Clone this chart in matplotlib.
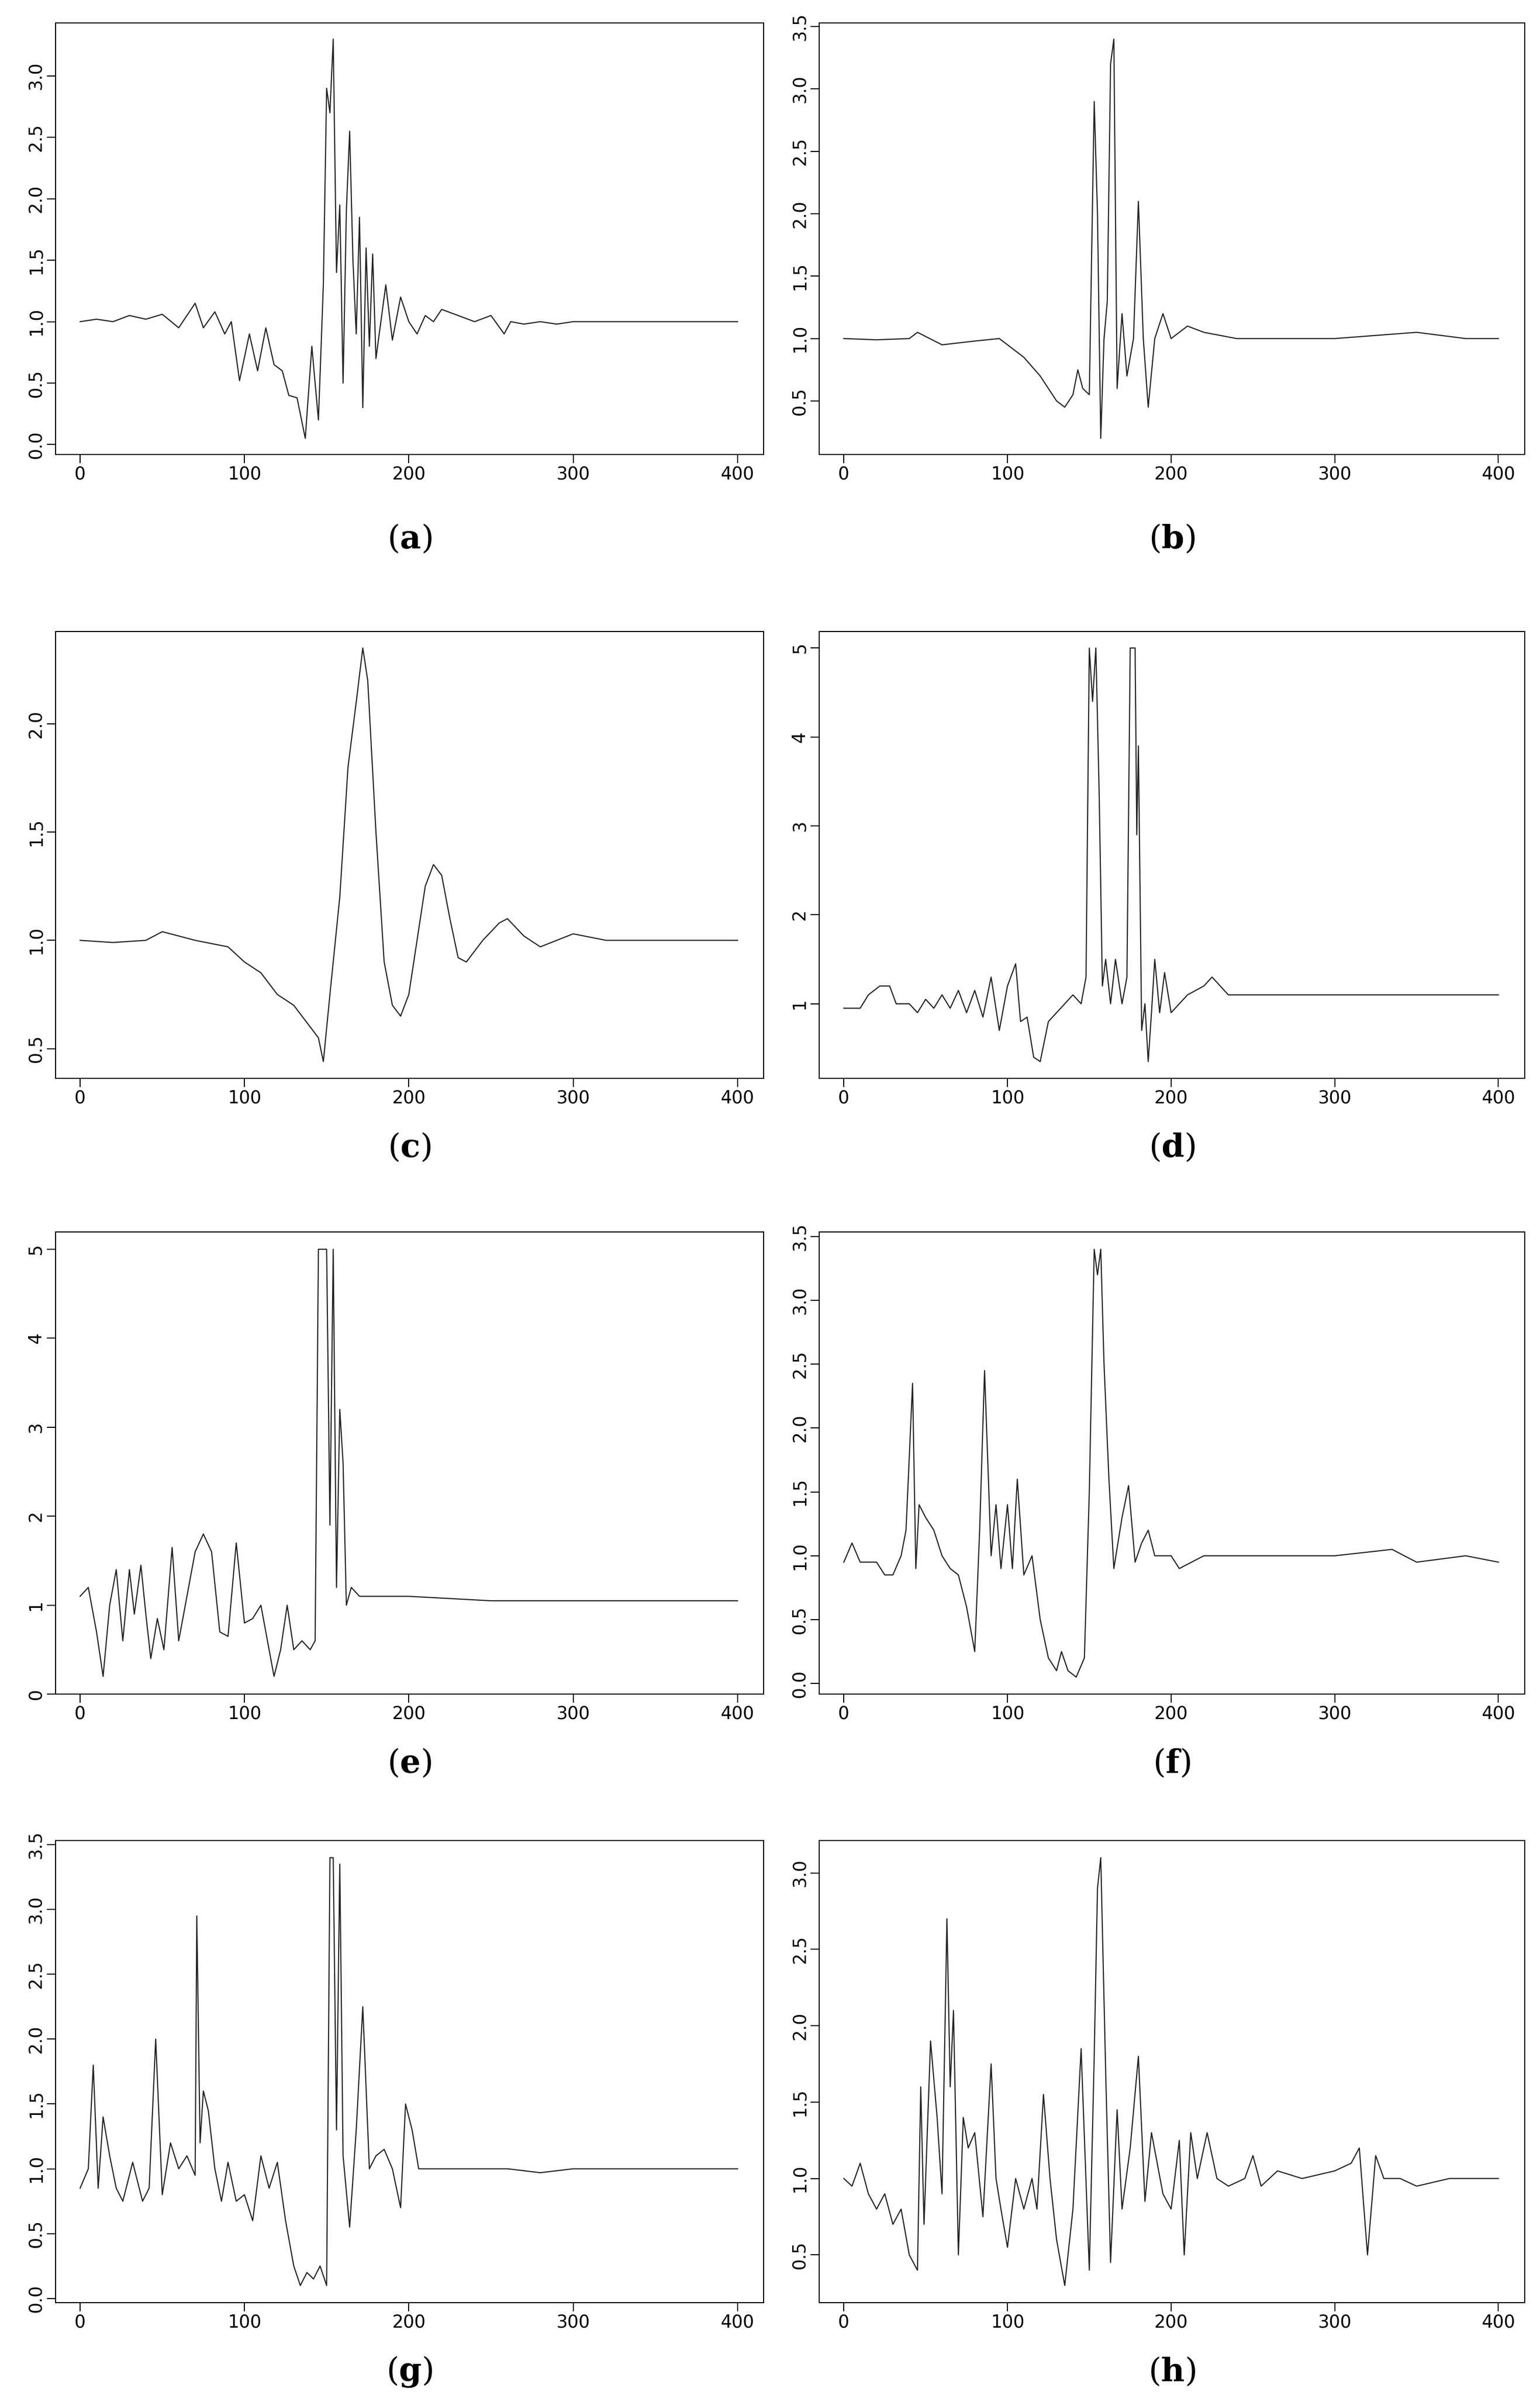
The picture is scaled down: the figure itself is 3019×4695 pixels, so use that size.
import numpy as np
import matplotlib.pyplot as plt

plt.rcParams['mathtext.fontset'] = 'dejavuserif'

# panel keypoints: x positions and series values
a_x = [0, 10, 20, 30, 40, 50, 60, 70, 75, 82, 88, 92, 97, 103, 108, 113, 118, 123, 127, 132, 137, 141, 145, 148, 150, 152, 154, 156, 158, 160, 162, 164, 166, 168, 170, 172, 174, 176, 178, 180, 183, 186, 190, 195, 200, 205, 210, 215, 220, 230, 240, 250, 258, 262, 270, 280, 290, 300, 350, 400]
a_y = [1.0, 1.02, 1.0, 1.05, 1.02, 1.06, 0.95, 1.15, 0.95, 1.08, 0.9, 1.0, 0.52, 0.9, 0.6, 0.95, 0.65, 0.6, 0.4, 0.38, 0.05, 0.8, 0.2, 1.3, 2.9, 2.7, 3.3, 1.4, 1.95, 0.5, 1.9, 2.55, 1.5, 0.9, 1.85, 0.3, 1.6, 0.8, 1.55, 0.7, 1.0, 1.3, 0.85, 1.2, 1.0, 0.9, 1.05, 1.0, 1.1, 1.05, 1.0, 1.05, 0.9, 1.0, 0.98, 1.0, 0.98, 1.0, 1.0, 1.0]

b_x = [0, 20, 40, 45, 60, 80, 95, 110, 120, 130, 135, 140, 143, 146, 150, 153, 155, 157, 159, 161, 163, 165, 167, 170, 173, 177, 180, 183, 186, 190, 195, 200, 210, 220, 240, 260, 300, 350, 380, 400]
b_y = [1.0, 0.99, 1.0, 1.05, 0.95, 0.98, 1.0, 0.85, 0.7, 0.5, 0.45, 0.55, 0.75, 0.6, 0.55, 2.9, 2.0, 0.2, 1.0, 1.3, 3.2, 3.4, 0.6, 1.2, 0.7, 1.0, 2.1, 1.0, 0.45, 1.0, 1.2, 1.0, 1.1, 1.05, 1.0, 1.0, 1.0, 1.05, 1.0, 1.0]

c_x = [0, 20, 40, 50, 70, 90, 100, 110, 120, 130, 140, 145, 148, 152, 158, 163, 168, 172, 175, 180, 185, 190, 195, 200, 205, 210, 215, 220, 225, 230, 235, 245, 255, 260, 270, 280, 290, 300, 320, 360, 400]
c_y = [1.0, 0.99, 1.0, 1.04, 1.0, 0.97, 0.9, 0.85, 0.75, 0.7, 0.6, 0.55, 0.44, 0.75, 1.2, 1.8, 2.1, 2.35, 2.2, 1.5, 0.9, 0.7, 0.65, 0.75, 1.0, 1.25, 1.35, 1.3, 1.1, 0.92, 0.9, 1.0, 1.08, 1.1, 1.02, 0.97, 1.0, 1.03, 1.0, 1.0, 1.0]

d_x = [0, 10, 15, 22, 28, 32, 40, 45, 50, 55, 60, 65, 70, 75, 80, 85, 90, 95, 100, 105, 108, 112, 116, 120, 125, 130, 135, 140, 145, 148, 150, 152, 154, 156, 158, 160, 163, 166, 170, 173, 175, 178, 179, 180, 182, 184, 186, 188, 190, 193, 196, 200, 210, 220, 225, 235, 250, 300, 400]
d_y = [0.95, 0.95, 1.1, 1.2, 1.2, 1.0, 1.0, 0.9, 1.05, 0.95, 1.1, 0.95, 1.15, 0.9, 1.15, 0.85, 1.3, 0.7, 1.2, 1.45, 0.8, 0.85, 0.4, 0.35, 0.8, 0.9, 1.0, 1.1, 1.0, 1.3, 5.0, 4.4, 5.0, 3.4, 1.2, 1.5, 1.0, 1.5, 1.0, 1.3, 5.0, 5.0, 2.9, 3.9, 0.7, 1.0, 0.35, 0.9, 1.5, 0.9, 1.35, 0.9, 1.1, 1.2, 1.3, 1.1, 1.1, 1.1, 1.1]

e_x = [0, 5, 10, 14, 18, 22, 26, 30, 33, 37, 40, 43, 47, 51, 56, 60, 65, 70, 75, 80, 85, 90, 95, 100, 105, 110, 115, 118, 122, 126, 130, 135, 140, 143, 145, 150, 152, 154, 156, 158, 160, 162, 165, 170, 180, 200, 250, 300, 400]
e_y = [1.1, 1.2, 0.7, 0.2, 1.0, 1.4, 0.6, 1.4, 0.9, 1.45, 0.9, 0.4, 0.85, 0.5, 1.65, 0.6, 1.1, 1.6, 1.8, 1.6, 0.7, 0.65, 1.7, 0.8, 0.85, 1.0, 0.5, 0.2, 0.5, 1.0, 0.5, 0.6, 0.5, 0.6, 5.0, 5.0, 1.9, 5.0, 1.2, 3.2, 2.6, 1.0, 1.2, 1.1, 1.1, 1.1, 1.05, 1.05, 1.05]

f_x = [0, 5, 10, 20, 25, 30, 35, 38, 42, 44, 46, 50, 55, 60, 65, 70, 75, 80, 83, 86, 90, 93, 96, 100, 103, 106, 110, 115, 120, 125, 130, 133, 137, 142, 147, 150, 153, 155, 157, 159, 162, 165, 170, 174, 178, 182, 186, 190, 200, 205, 220, 250, 300, 335, 350, 380, 400]
f_y = [0.95, 1.1, 0.95, 0.95, 0.85, 0.85, 1.0, 1.2, 2.35, 0.9, 1.4, 1.3, 1.2, 1.0, 0.9, 0.85, 0.6, 0.25, 1.2, 2.45, 1.0, 1.4, 0.9, 1.4, 0.9, 1.6, 0.85, 1.0, 0.5, 0.2, 0.1, 0.25, 0.1, 0.05, 0.2, 1.5, 3.4, 3.2, 3.4, 2.5, 1.6, 0.9, 1.3, 1.55, 0.95, 1.1, 1.2, 1.0, 1.0, 0.9, 1.0, 1.0, 1.0, 1.05, 0.95, 1.0, 0.95]

g_x = [0, 5, 8, 11, 14, 18, 22, 26, 32, 38, 42, 46, 50, 55, 60, 65, 70, 71, 73, 75, 78, 82, 86, 90, 95, 100, 105, 110, 115, 120, 125, 130, 134, 138, 142, 146, 150, 152, 154, 156, 158, 160, 164, 168, 172, 176, 180, 185, 190, 195, 198, 202, 206, 220, 260, 280, 300, 400]
g_y = [0.85, 1.0, 1.8, 0.85, 1.4, 1.1, 0.85, 0.75, 1.05, 0.75, 0.85, 2.0, 0.8, 1.2, 1.0, 1.1, 0.95, 2.95, 1.2, 1.6, 1.45, 1.0, 0.75, 1.05, 0.75, 0.8, 0.6, 1.1, 0.85, 1.05, 0.6, 0.25, 0.1, 0.2, 0.15, 0.25, 0.1, 3.4, 3.4, 1.3, 3.35, 1.1, 0.55, 1.3, 2.25, 1.0, 1.1, 1.15, 1.0, 0.7, 1.5, 1.3, 1.0, 1.0, 1.0, 0.97, 1.0, 1.0]

h_x = [0, 5, 10, 15, 20, 25, 30, 35, 40, 45, 47, 49, 53, 57, 60, 63, 65, 67, 70, 73, 76, 80, 85, 90, 93, 96, 100, 105, 110, 115, 118, 122, 126, 130, 135, 140, 145, 150, 153, 155, 157, 160, 163, 167, 170, 175, 180, 184, 188, 195, 200, 205, 208, 212, 216, 222, 228, 235, 245, 250, 255, 265, 280, 300, 310, 315, 320, 325, 330, 340, 350, 370, 400]
h_y = [1.0, 0.95, 1.1, 0.9, 0.8, 0.9, 0.7, 0.8, 0.5, 0.4, 1.6, 0.7, 1.9, 1.4, 0.9, 2.7, 1.6, 2.1, 0.5, 1.4, 1.2, 1.3, 0.75, 1.75, 1.0, 0.8, 0.55, 1.0, 0.8, 1.0, 0.8, 1.55, 1.0, 0.6, 0.3, 0.8, 1.85, 0.4, 1.8, 2.9, 3.1, 1.7, 0.45, 1.45, 0.8, 1.2, 1.8, 0.85, 1.3, 0.9, 0.8, 1.25, 0.5, 1.3, 1.0, 1.3, 1.0, 0.95, 1.0, 1.15, 0.95, 1.05, 1.0, 1.05, 1.1, 1.2, 0.5, 1.15, 1.0, 1.0, 0.95, 1.0, 1.0]

x_ticks = [0, 100, 200, 300, 400]
y_ticks = {
    'a': [0.0, 0.5, 1.0, 1.5, 2.0, 2.5, 3.0],
    'b': [0.5, 1.0, 1.5, 2.0, 2.5, 3.0, 3.5],
    'c': [0.5, 1.0, 1.5, 2.0],
    'd': [1, 2, 3, 4, 5],
    'e': [0, 1, 2, 3, 4, 5],
    'f': [0.0, 0.5, 1.0, 1.5, 2.0, 2.5, 3.0, 3.5],
    'g': [0.0, 0.5, 1.0, 1.5, 2.0, 2.5, 3.0, 3.5],
    'h': [0.5, 1.0, 1.5, 2.0, 2.5, 3.0],
}
panels = [('a', a_x, a_y), ('b', b_x, b_y), ('c', c_x, c_y), ('d', d_x, d_y),
          ('e', e_x, e_y), ('f', f_x, f_y), ('g', g_x, g_y), ('h', h_x, h_y)]

fig = plt.figure(figsize=(30.19, 46.95), dpi=100)
H = 1555.0
rows = [(15, 295), (410, 700), (800, 1100), (1195, 1495)]
cols = [(0.036, 0.460), (0.532, 0.458)]
label_y = [350, 745, 1145, 1540]

for i, (name, xs, ys) in enumerate(panels):
    r, c = divmod(i, 2)
    top, bot = rows[r]
    left, w = cols[c]
    ax = fig.add_axes([left, 1 - bot / H, w, (bot - top) / H])
    ax.plot(xs, ys, color='#222222', lw=1.6)
    ax.set_xlim(-15, 416)
    lo, hi = min(ys), max(ys)
    pad = (hi - lo) * 0.04
    ax.set_ylim(lo - pad, hi + pad)
    ax.set_xticks(x_ticks)
    ax.set_yticks(y_ticks[name])
    if name in ('d', 'e'):
        ax.set_yticklabels([str(v) for v in y_ticks[name]])
    else:
        ax.set_yticklabels([f'{v:.1f}' for v in y_ticks[name]])
    ax.tick_params(labelsize=25, length=12, width=1.5, direction='out')
    for lab in ax.get_yticklabels():
        lab.set_rotation(90)
        lab.set_va('center')
    for s in ax.spines.values():
        s.set_linewidth(1.5)
    fig.text(left + w / 2, 1 - label_y[r] / H, r'($\mathbf{' + name + '}$)',
             ha='center', va='center', fontsize=46, family='DejaVu Serif')

fig.savefig('out.png', dpi=100)
